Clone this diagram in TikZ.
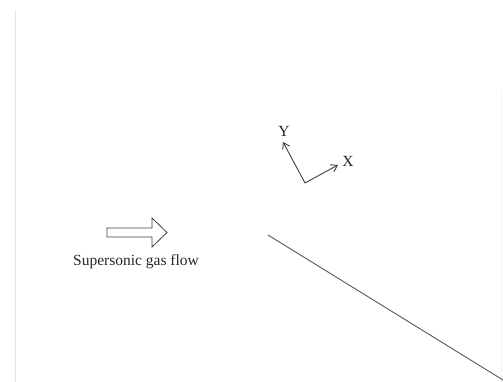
\documentclass[tikz,border=0pt]{standalone}
\usepackage{fontspec}
\setmainfont{Liberation Serif}
\usetikzlibrary{arrows.meta}
\begin{document}
\begin{tikzpicture}[x=1pt,y=-1pt,
  axis/.style={draw=black!75,line width=0.9pt,-{Straight Barb[length=6pt,width=8pt]}},
  lbl/.style={font=\fontsize{15.5}{16}\selectfont,text=black!85,inner sep=0pt},
  edgeline/.style={draw=black!10,line width=0.8pt},
  wall/.style={draw=black!65,line width=0.9pt}]
\useasboundingbox[fill=white] (0,0) rectangle (503,382);
% faint scan edges
\coordinate (el1) at (15,10);
\coordinate (el2) at (15,382);
\coordinate (er1) at (501,90);
\coordinate (er2) at (501,382);
\draw[edgeline] (el1) -- (el2);
\draw[draw=black!4,line width=0.5pt] (er1) -- (er2);
% coordinate axes
\coordinate (o) at (305,183);
\coordinate (ty) at (283,142);
\coordinate (tx) at (338,165);
\draw[axis] (o) -- (ty);
\draw[axis] (o) -- (tx);
\node[lbl] (Y) at (284,131) {Y};
\node[lbl] (X) at (348,161) {X};
% block arrow
\draw[draw=black!75,line width=0.8pt,fill=white]
  (107,228) -- (152,228) -- (152,218) -- (167,232.5) -- (152,247) -- (152,237) -- (107,237) -- cycle;
\node[lbl] (flow) at (136,262) {Supersonic gas flow};
% wall
\coordinate (w1) at (268,235);
\coordinate (w2) at (503,380);
\draw[wall] (w1) -- (w2);
\end{tikzpicture}
\end{document}
